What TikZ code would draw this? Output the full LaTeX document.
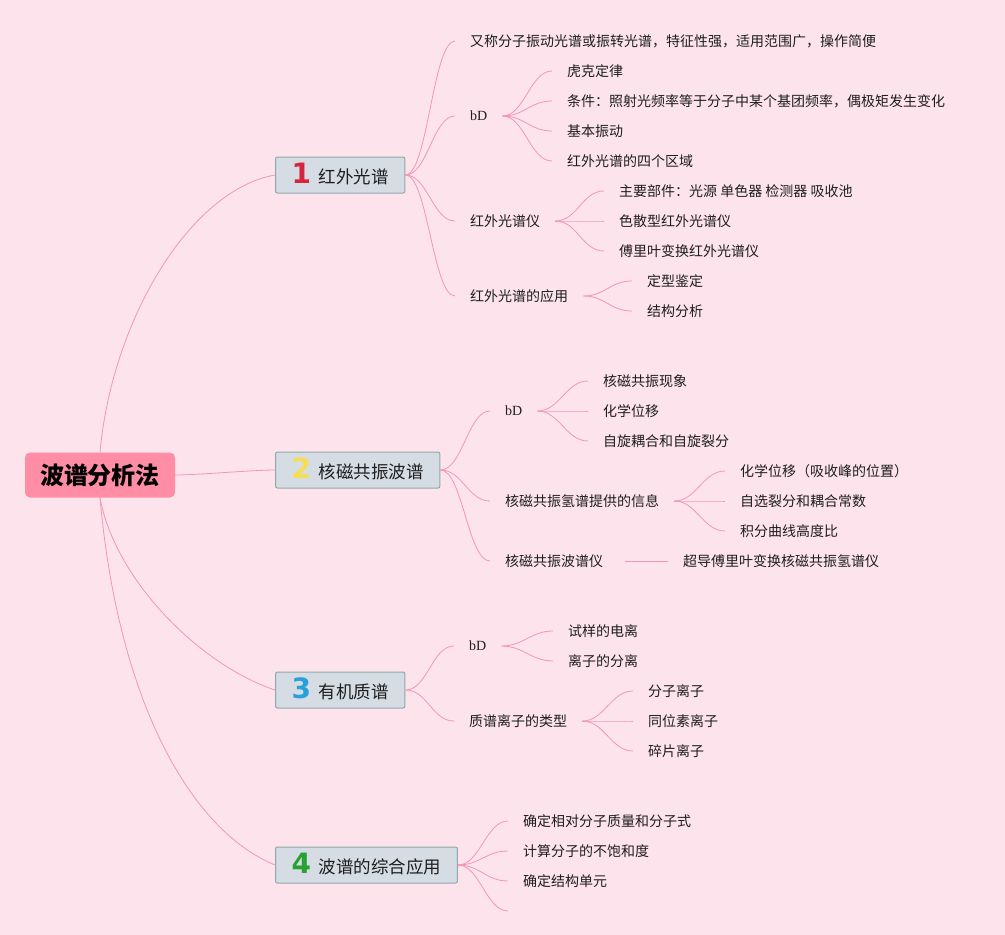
\documentclass[tikz,border=0pt]{standalone}
\usepackage{fontspec}
\setmainfont{Noto Sans CJK SC}
\newfontfamily\numfont{DejaVu Sans}
\newfontfamily\latinserif{Liberation Serif}
\usetikzlibrary{positioning}

\definecolor{bgcol}{RGB}{253,228,236}
\definecolor{rootcol}{RGB}{255,141,166}
\definecolor{boxcol}{RGB}{213,220,228}
\definecolor{boxline}{RGB}{142,170,168}
\definecolor{linkcol}{RGB}{244,150,178}
\definecolor{txtcol}{RGB}{30,30,30}
\definecolor{onecol}{RGB}{214,36,60}
\definecolor{twocol}{RGB}{246,222,80}
\definecolor{threecol}{RGB}{40,160,220}
\definecolor{fourcol}{RGB}{40,160,50}

\newcommand\badge[2]{{\color{#1}\numfont\bfseries\fontsize{28}{28}\selectfont #2}\hspace{8pt}}

\begin{document}
\begin{tikzpicture}[x=1pt, y=-1pt]
  \tikzset{
    rootbox/.style={fill=rootcol, rounded corners=5pt, minimum width=150pt, minimum height=45pt,
                    inner sep=0pt, font=\fontsize{24}{24}\selectfont\bfseries, text=black},
    topic/.style={draw=boxline, line width=1pt, fill=boxcol, rounded corners=2pt, minimum height=36pt,
                  text height=20pt, text depth=4pt,
                  inner xsep=16pt, inner ysep=0pt, anchor=west, font=\fontsize{17.5}{17.5}\selectfont, text=txtcol},
    leaf/.style={anchor=west, inner xsep=15pt, inner ysep=2pt, font=\fontsize{14}{14}\selectfont, text=txtcol},
    link/.style={draw=linkcol, line width=0.8pt,
                 to path={.. controls +(22,0) and +(-22,0) .. (\tikztotarget)}},
  }
  %
  \useasboundingbox (0,0) rectangle (1005,935);
  \fill[bgcol] (0,0) rectangle (1005,935);
  %
  %%% ROOT %%%
  \node[rootbox] (root) at (100,475) {波谱分析法};
  %
  %%% TOPICS %%%
  \node[topic] (ir)  at (275,175) {\badge{onecol}{1}红外光谱};
  \node[topic] (nmr) at (275,470) {\badge{twocol}{2}核磁共振波谱};
  \node[topic] (ms)  at (275,690) {\badge{threecol}{3}有机质谱};
  \node[topic] (app) at (275,865) {\badge{fourcol}{4}波谱的综合应用};
  %
  \draw[linkcol, line width=0.8pt] (root.north) .. controls (112,320) and (190,190) .. (ir.west);
  \draw[link] (root.east) to (nmr.west);
  \draw[linkcol, line width=0.8pt] (root.south) .. controls (115,580) and (200,665) .. (ms.west);
  \draw[linkcol, line width=0.8pt] (root.south) .. controls (118,700) and (190,830) .. (app.west);
  %
  % --- 1 红外光谱 ---
  \foreach \n/\y/\txt in {
    1/41/{又称分子振动光谱或振转光谱，特征性强，适用范围广，操作简便},
    2/116/{\latinserif bD}, 3/221/{红外光谱仪}, 4/296/{红外光谱的应用}%
  } {
    \node[leaf] (ir\n) at (455,\y) {\txt};
    \draw[link] (ir.east) to (ir\n.west);
  }
  \foreach \n/\y/\txt in {
    1/71/{虎克定律}, 2/101/{条件：照射光频率等于分子中某个基团频率，偶极矩发生变化},
    3/131/{基本振动}, 4/161/{红外光谱的四个区域}%
  } {
    \node[leaf] (irb\n) at (552,\y) {\txt};
    \draw[link] (ir2.east) to (irb\n.west);
  }
  \foreach \n/\y/\txt in {
    1/191/{主要部件：光源 单色器 检测器 吸收池}, 2/221/{色散型红外光谱仪}, 3/251/{傅里叶变换红外光谱仪}%
  } {
    \node[leaf] (iri\n) at (604,\y) {\txt};
    \draw[link] (ir3.east) to (iri\n.west);
  }
  \foreach \n/\y/\txt in {1/281/{定型鉴定}, 2/311/{结构分析}} {
    \node[leaf] (ira\n) at (632,\y) {\txt};
    \draw[link] (ir4.east) to (ira\n.west);
  }
  %
  % --- 2 核磁共振波谱 ---
  \foreach \n/\y/\txt in {1/411/{\latinserif bD}, 2/501/{核磁共振氢谱提供的信息}, 3/561/{核磁共振波谱仪}} {
    \node[leaf] (nmr\n) at (490,\y) {\txt};
    \draw[link] (nmr.east) to (nmr\n.west);
  }
  \foreach \n/\y/\txt in {1/381/{核磁共振现象}, 2/411/{化学位移}, 3/441/{自旋耦合和自旋裂分}} {
    \node[leaf] (nmrb\n) at (588,\y) {\txt};
    \draw[link] (nmr1.east) to (nmrb\n.west);
  }
  \foreach \n/\y/\txt in {1/471/{化学位移（吸收峰的位置）}, 2/501/{自选裂分和耦合常数}, 3/531/{积分曲线高度比}} {
    \node[leaf] (nmrh\n) at (725,\y) {\txt};
    \draw[link] (nmr2.east) to (nmrh\n.west);
  }
  \node[leaf] (nmrs1) at (668,561) {超导傅里叶变换核磁共振氢谱仪};
  \draw[linkcol, line width=0.8pt] ([xshift=7pt]nmr3.east) -- (nmrs1.west);
  %
  % --- 3 有机质谱 ---
  \foreach \n/\y/\txt in {1/646/{\latinserif bD}, 2/721/{质谱离子的类型}} {
    \node[leaf] (ms\n) at (454,\y) {\txt};
    \draw[link] (ms.east) to (ms\n.west);
  }
  \foreach \n/\y/\txt in {1/631/{试样的电离}, 2/661/{离子的分离}} {
    \node[leaf] (msb\n) at (553,\y) {\txt};
    \draw[link] (ms1.east) to (msb\n.west);
  }
  \foreach \n/\y/\txt in {1/691/{分子离子}, 2/721/{同位素离子}, 3/751/{碎片离子}} {
    \node[leaf] (mst\n) at (633,\y) {\txt};
    \draw[link] (ms2.east) to (mst\n.west);
  }
  %
  % --- 4 波谱的综合应用 ---
  \foreach \n/\y/\txt in {1/821/{确定相对分子质量和分子式}, 2/851/{计算分子的不饱和度}, 3/881/{确定结构单元}} {
    \node[leaf] (app\n) at (508,\y) {\txt};
    \draw[link] (app.east) to (app\n.west);
  }
  \coordinate (app4) at (508,911);
  \draw[link] (app.east) to (app4);
\end{tikzpicture}
\end{document}
